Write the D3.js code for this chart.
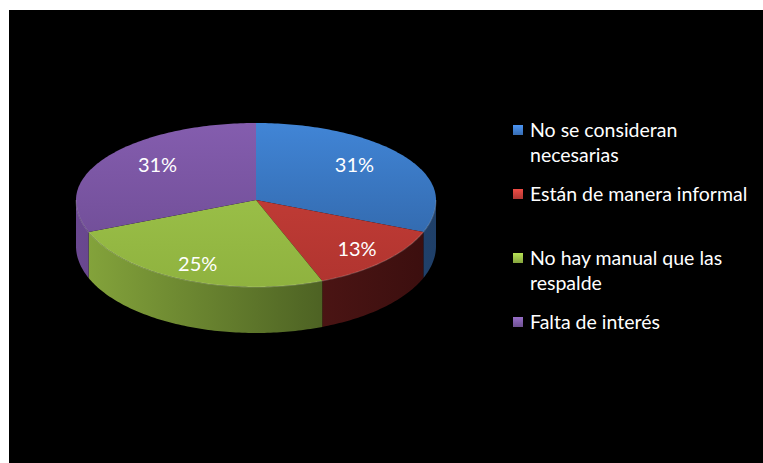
<!DOCTYPE html>
<html>
<head>
<meta charset="utf-8">
<script src="https://cdn.jsdelivr.net/npm/d3@7"></script>
<style>
  html, body { margin: 0; padding: 0; background: #ffffff; }
  svg { display: block; }
</style>
</head>
<body>
<svg id="chart" width="763" height="463"></svg>
<script>
// Causes reported, and their share of answers (percent)
const categories = [
  "No se consideran necesarias",
  "Están de manera informal",
  "No hay manual que las respalde",
  "Falta de interés"
];
const legendLines = [
  ["No se consideran", "necesarias"],
  ["Están de manera informal"],
  ["No hay manual que las", "respalde"],
  ["Falta de interés"]
];
const values = [31, 13, 25, 31];

// Fill colours: top face (light, dark), wall (light, dark)
const topColors  = [["#4185d6", "#2d5f9e"], ["#cc413a", "#b0342f"], ["#a2c94e", "#8fb23f"], ["#845dae", "#6a4990"]];
const wallColors = [["#3568a8", "#1f3f68"], ["#6e2220", "#3a0e0e"], ["#86a63c", "#334318"], ["#6a4890", "#3e2a58"]];
const keyColors  = ["#3f7dcc", "#c9403a", "#99bd47", "#7e5ca7"];

const svg = d3.select("#chart");
const W = 763, H = 463;
const font = "Lato, 'Open Sans', sans-serif";

// Black chart area
svg.append("rect").attr("x", 9).attr("y", 10).attr("width", W - 9).attr("height", H - 10).attr("fill", "#000");

// Tilted pie in light perspective: the far half of the rim is flatter than the near half
const cx = 256, cy = 200, rx = 180, ryBack = 77, ryFront = 87, depth = 46;

const pie = d3.pie().sort(null).value(d => d)
  .startAngle(0).endAngle(2 * Math.PI);
const arcs = pie(values);

const rim = (a, dy = 0) => {
  const c = Math.cos(a);
  return [cx + rx * Math.sin(a), cy - (c > 0 ? ryBack : ryFront) * c + dy];
};
// Points along the rim from angle a to b
const rimPoints = (a, b, dy = 0) => {
  const n = Math.max(2, Math.ceil((b - a) / (Math.PI / 180)));
  return d3.range(n + 1).map(k => rim(a + (b - a) * k / n, dy));
};
const line = d3.line();

const defs = svg.append("defs");
arcs.forEach((d, i) => {
  const wg = defs.append("linearGradient").attr("id", "wall" + i)
    .attr("gradientUnits", "userSpaceOnUse")
    .attr("x1", cx - rx).attr("y1", 0).attr("x2", cx + rx).attr("y2", 0);
  wg.append("stop").attr("offset", "0").attr("stop-color", wallColors[i][0]);
  wg.append("stop").attr("offset", "1").attr("stop-color", wallColors[i][1]);

  const tg = defs.append("linearGradient").attr("id", "top" + i)
    .attr("gradientUnits", "userSpaceOnUse")
    .attr("x1", 0).attr("y1", cy - ryBack).attr("x2", 0).attr("y2", cy + ryFront);
  tg.append("stop").attr("offset", "0").attr("stop-color", topColors[i][0]);
  tg.append("stop").attr("offset", "1").attr("stop-color", topColors[i][1]);

  const kg = defs.append("linearGradient").attr("id", "key" + i)
    .attr("x1", 0).attr("y1", 0).attr("x2", 0).attr("y2", 1);
  kg.append("stop").attr("offset", "0").attr("stop-color", d3.color(keyColors[i]).brighter(0.5));
  kg.append("stop").attr("offset", "1").attr("stop-color", d3.color(keyColors[i]).darker(0.4));
});

// Front walls: only the part of each slice between 90° and 270° faces the viewer
const front0 = Math.PI / 2, front1 = 3 * Math.PI / 2;
const walls = svg.append("g");
arcs.forEach((d, i) => {
  const a = Math.max(d.startAngle, front0), b = Math.min(d.endAngle, front1);
  if (b <= a) return;
  const pts = rimPoints(a, b).concat(rimPoints(a, b, depth).reverse());
  walls.append("path").attr("d", line(pts) + "Z").attr("fill", `url(#wall${i})`);
});

// Top faces
const tops = svg.append("g");
arcs.forEach((d, i) => {
  const pts = [[cx, cy]].concat(rimPoints(d.startAngle, d.endAngle));
  tops.append("path").attr("d", line(pts) + "Z").attr("fill", `url(#top${i})`);
});

// Soft light edge along the near rim
svg.append("path")
  .attr("d", line(rimPoints(front0, front1)))
  .attr("fill", "none").attr("stroke", "rgba(255,255,255,0.18)").attr("stroke-width", 1.2);

// Percentage labels, placed part-way out along each slice's middle angle
const lr = 0.8;
const labelPos = d => {
  const m = (d.startAngle + d.endAngle) / 2, c = Math.cos(m);
  const kx = 0.9 - 0.13 * c;
  return [cx + lr * kx * rx * Math.sin(m), cy - lr * (c > 0 ? ryBack : ryFront) * c];
};
svg.append("g").selectAll("text").data(arcs).join("text")
  .attr("x", d => labelPos(d)[0])
  .attr("y", d => labelPos(d)[1] + 7)
  .attr("text-anchor", "middle")
  .attr("font-family", font).attr("font-size", 20).attr("fill", "#fff")
  .text(d => d.value + "%");

// Legend
const legendY = [137, 201, 265, 329];
const legend = svg.append("g");
legendLines.forEach((lines, i) => {
  const g = legend.append("g").attr("transform", `translate(513,${legendY[i]})`);
  g.append("rect").attr("x", 0).attr("y", -12).attr("width", 10).attr("height", 10)
    .attr("fill", `url(#key${i})`);
  lines.forEach((t, j) => {
    g.append("text").attr("x", 17).attr("y", j * 25)
      .attr("font-family", font).attr("font-size", 19.5).attr("fill", "#fff").text(t);
  });
});
</script>
</body>
</html>
